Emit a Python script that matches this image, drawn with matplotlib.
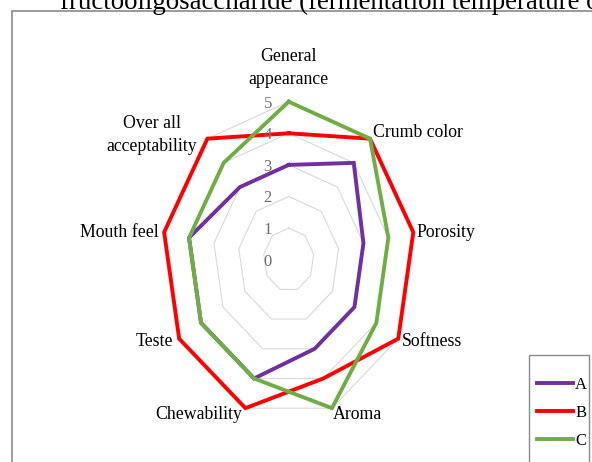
import numpy as np
import matplotlib
matplotlib.use('Agg')
import matplotlib.pyplot as plt
from matplotlib.patches import Rectangle

plt.rcParams['font.family'] = ['Liberation Serif', 'DejaVu Serif']

categories = ['General\nappearance', 'Crumb color', 'Porosity', 'Softness', 'Aroma',
              'Chewability', 'Teste', 'Mouth feel', 'Over all\nacceptability']
series_names = ['A', 'B', 'C']
a_vals = [3, 4, 3, 3, 3, 4, 4, 4, 3]
b_vals = [4, 5, 5, 5, 4, 5, 5, 5, 5]
c_vals = [5, 5, 4, 4, 5, 4, 4, 4, 4]
tick_vals = [0, 1, 2, 3, 4, 5]
title_text = 'fructooligosaccharide (fermentation temperature of'

colors = ['#7030A0', '#FF0000', '#70AD47']

W, H = 592, 462
fig = plt.figure(figsize=(W / 100, H / 100), dpi=100)

# radar area (picture is stretched vertically, so the polar axes is not square)
ax = fig.add_axes([162.2 / W, 1 - 417.7 / H, 253 / W, 316 / H], projection='polar')
ax.set_aspect('auto')
ax.set_theta_offset(np.pi / 2)
ax.set_theta_direction(-1)
ax.set_ylim(0, 5)
ax.grid(False)
ax.set_xticks([])
ax.set_yticks([])
ax.spines['polar'].set_visible(False)
ax.patch.set_alpha(0)

n = len(categories)
angles = np.linspace(0, 2 * np.pi, n, endpoint=False)
closed = np.append(angles, angles[0])

# polygon gridlines
for v in tick_vals[1:]:
    ax.plot(closed, [v] * (n + 1), color='#d9d9d9', lw=0.8, zorder=1, clip_on=False)

handles = []
for vals, col in zip([a_vals, b_vals, c_vals], colors):
    line, = ax.plot(closed, vals + vals[:1], color=col, lw=2.8, zorder=3,
                    clip_on=False, solid_joinstyle='miter')
    handles.append(line)

for v in tick_vals:
    ax.annotate(str(v), xy=(0, v), xytext=(-21, -2), textcoords='offset pixels',
                ha='center', va='center', color='#6e6e6e', fontsize=12)

label_offsets = [(0, 34), (3, 6), (3, 0), (3.5, -3), (0.7, -6),
                 (-3.7, -6), (-6, -3), (-5, 0), (-10, 4)]
label_ha = ['center', 'left', 'left', 'left', 'left', 'right', 'right', 'right', 'right']
for ang, lab, off, ha in zip(angles, categories, label_offsets, label_ha):
    ax.annotate(lab, xy=(ang, 5), xytext=off, textcoords='offset pixels',
                ha=ha, va='center', multialignment='center', linespacing=1.45,
                fontsize=12.8, color='black', annotation_clip=False)

# outer chart border (runs off the right and bottom of the picture)
fig.add_artist(Rectangle((12 / W, -0.1), 1.0, 1.1 - 11 / H, transform=fig.transFigure,
                         fill=False, edgecolor='#8a8a8a', lw=1.2))

# legend box
fig.add_artist(Rectangle((529.3 / W, -0.1), 59.7 / W, 1.1 - 355 / H, transform=fig.transFigure,
                         fill=False, edgecolor='#8a8a8a', lw=1.0))
fig.legend(handles, series_names, loc='upper left', bbox_to_anchor=(536.7 / W, 1 - 377 / H),
           frameon=False, fontsize=12, handlelength=2.2, handletextpad=0.1,
           labelspacing=0.72, borderpad=0, borderaxespad=0)

fig.text(60 / W, 1 - 9 / H, title_text, fontsize=19.4, ha='left', va='baseline')

fig.savefig('out.png', dpi=100)
